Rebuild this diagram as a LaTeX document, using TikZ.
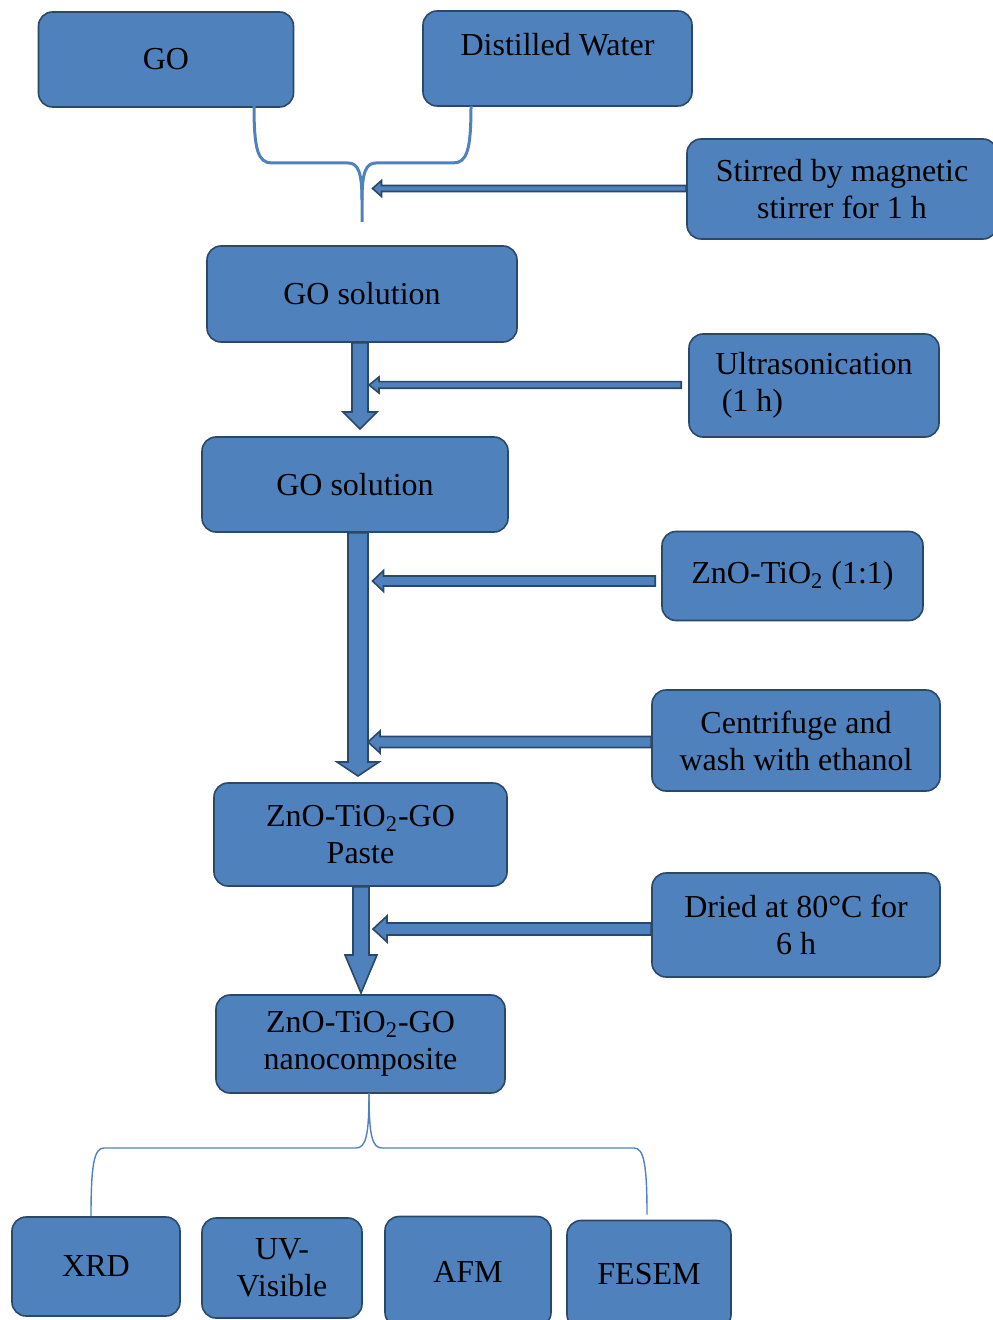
\documentclass[tikz,border=0pt]{standalone}
\usepackage{fontspec}
\setmainfont{Liberation Serif}
\usetikzlibrary{calc}
\definecolor{boxblue}{HTML}{4F81BD}
\definecolor{boxline}{HTML}{2A4868}
\tikzset{
  box/.style={draw=boxline, fill=boxblue, line width=0.8pt, rounded corners=7pt,
    align=center, inner sep=2pt, font=\fontsize{16}{18.5}\selectfont},
  blockarrow/.style={draw=boxline, fill=boxblue, line width=0.8pt, line join=miter},
  brace/.style={draw=boxblue, line width=1.5pt},
  thinbrace/.style={draw=boxblue, line width=0.7pt}
}
\newcommand{\downblock}[5]{%
  \draw[blockarrow] ($(#1)+(-#3,0)$) -- ($(#2)+(-#3,-#5)$) -- ($(#2)+(-#4,-#5)$) -- (#2)
    -- ($(#2)+(#4,-#5)$) -- ($(#2)+(#3,-#5)$) -- ($(#1)+(#3,0)$) -- cycle;}
\newcommand{\leftblock}[5]{%
  \draw[blockarrow] ($(#1)+(0,-#3)$) -- ($(#2)+(#5,-#3)$) -- ($(#2)+(#5,-#4)$) -- (#2)
    -- ($(#2)+(#5,#4)$) -- ($(#2)+(#5,#3)$) -- ($(#1)+(0,#3)$) -- cycle;}
\begin{document}
\begin{tikzpicture}[x=0.5pt, y=-0.5pt]
  \useasboundingbox (0,0) rectangle (992,1320);
  \node[box, minimum width=127.5pt, minimum height=47.5pt] (go) at (166,59.5) {GO};
  \node[box, minimum width=134.5pt, minimum height=47.5pt, text depth=14pt] (water) at (557.5,58.5) {Distilled Water};
  \node[box, minimum width=155pt, minimum height=50pt] (stirred) at (842,189) {Stirred by magnetic\\stirrer for 1 h};
  \node[box, minimum width=155pt, minimum height=48pt] (gos1) at (362,294) {GO solution};
  \node[box, minimum width=125pt, minimum height=51.5pt, align=left] (ultra) at (814,385.5) {Ultrasonication\\\hspace*{0.2em}(1 h)};
  \node[box, minimum width=153pt, minimum height=47.5pt] (gos2) at (355,484.5) {GO solution};
  \node[box, minimum width=130.5pt, minimum height=44.5pt] (zno) at (792.5,576) {ZnO-TiO\textsubscript{2} (1:1)};
  \node[box, minimum width=144pt, minimum height=50.5pt] (centri) at (796,740.5) {Centrifuge and\\wash with ethanol};
  \node[box, minimum width=146.5pt, minimum height=51.5pt] (paste) at (360.5,834.5) {ZnO-TiO\textsubscript{2}-GO\\Paste};
  \node[box, minimum width=144pt, minimum height=52pt] (dried) at (796,925) {Dried at 80°C for\\6 h};
  \node[box, minimum width=144.5pt, minimum height=49pt] (nano) at (360.5,1044) {ZnO-TiO\textsubscript{2}-GO\\nanocomposite};
  \node[box, minimum width=84pt, minimum height=49.5pt] (xrd) at (96,1266.5) {XRD};
  \node[box, minimum width=80pt, minimum height=50pt] (uv) at (282,1268) {UV-\\Visible};
  \node[box, minimum width=83pt, minimum height=55pt] (afm) at (468,1271.5) {AFM};
  \node[box, minimum width=82pt, minimum height=54pt] (fesem) at (649,1274.5) {FESEM};

  \coordinate (mix) at (362,222);
  \coordinate (t1) at (360,429);
  \coordinate (t2) at (358,776);
  \coordinate (t3) at (361,993);
  \coordinate (a1) at (372.5,188.5);
  \coordinate (a2) at (369,385);
  \coordinate (a3) at (372.5,581);
  \coordinate (a4) at (368,742);
  \coordinate (a5) at (373,929);
  \coordinate (s2) at ($(ultra.west |- a2)+(-7,0)$);
  \coordinate (s3) at ($(zno.west |- a3)+(-6,0)$);

  \begin{scope}
    \draw[brace] (254,106) .. controls (254,150) and (258,163) .. (272,163) -- (348,163)
      .. controls (358,163) and (362,172) .. (362,200) -- (mix);
    \draw[brace] (471,106) .. controls (471,150) and (467,163) .. (453,163) -- (376,163)
      .. controls (366,163) and (362,172) .. (362,200);
    \draw[thinbrace] (369,1093) .. controls (369,1135) and (366,1148) .. (356,1148) -- (104,1148)
      .. controls (94,1148) and (91,1165) .. ($(xrd.north)+(-5,0)$);
    \draw[thinbrace] (369,1093) .. controls (369,1135) and (372,1148) .. (382,1148) -- (634,1148)
      .. controls (644,1148) and (647,1165) .. ($(fesem.north)+(-2,-5)$);
  \end{scope}

  \begin{scope}
    \downblock{gos1.south -| t1}{t1}{8}{17}{17}
    \downblock{gos2.south -| t2}{t2}{10}{21}{14}
    \downblock{paste.south -| t3}{t3}{8}{16}{38}
    \leftblock{stirred.west |- a1}{a1}{3}{8}{9}
    \leftblock{s2}{a2}{3.3}{8}{10}
    \leftblock{s3}{a3}{5}{10.5}{11}
    \leftblock{centri.west |- a4}{a4}{5.5}{11}{12}
    \leftblock{dried.west |- a5}{a5}{6}{13}{14}
  \end{scope}
\end{tikzpicture}
\end{document}
